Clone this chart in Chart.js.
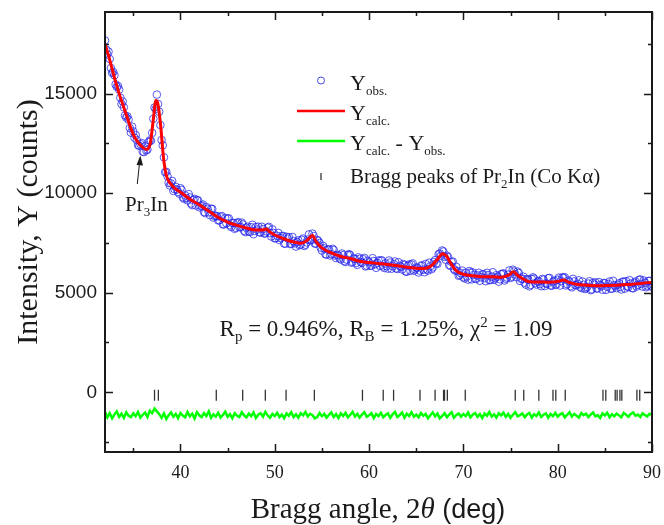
<!DOCTYPE html>
<html>
<head>
<meta charset="utf-8">
<script src="https://cdn.jsdelivr.net/npm/chart.js@4.4.1/dist/chart.umd.min.js"></script>
<style>
  html, body { margin: 0; padding: 0; background: #fff; }
  #wrap { width: 664px; height: 525px; position: relative; }
</style>
</head>
<body>
<div id="wrap"><canvas id="xrd" width="664" height="525"></canvas></div>
<script>
// ---------- data ----------
// observed scan: 2theta from 32 to 90 deg, 0.125 deg step (one row = one degree)
const obsStart = 32, obsStep = 0.125;
const yObs = [
  17670, 17210, 16970, 17110, 16740, 16285, 16040, 16085,
  15920, 15460, 15340, 15380, 15200, 14795, 14480, 14605,
  14310, 13905, 13800, 13855, 13690, 13275, 13040, 13340,
  13100, 12790, 12920, 12670, 12420, 12375, 12460, 12520,
  12090, 12065, 12350, 12150, 12190, 12560, 12650, 12635,
  13030, 13735, 14300, 14235, 14950, 14480, 14090, 13420,
  12670, 12405, 11800, 11055, 11070, 10855, 10520, 10390,
  10490, 10615, 10110, 10200, 10320, 10180, 10060, 9975,
  10250, 10165, 9790, 9720, 9890, 9745, 9640, 9955,
  9790, 9475, 9400, 9655, 9710, 9385, 9660, 9635,
  9290, 9350, 9380, 9430, 9050, 9000, 9300, 9220,
  9040, 8900, 9220, 9210, 8770, 8840, 8870, 8840,
  8630, 8640, 8810, 8850, 8430, 8430, 8750, 8485,
  8720, 8740, 8380, 8300, 8510, 8505, 8210, 8260,
  8500, 8545, 8290, 8305, 8520, 8430, 8110, 8045,
  8260, 8315, 8070, 8050, 8290, 8415, 7940, 8100,
  8300, 8170, 8320, 8040, 8020, 8315, 8200, 7975,
  7980, 8080, 8270, 8310, 7990, 7825, 8180, 8000,
  7730, 7735, 7860, 8005, 7650, 7745, 7840, 7855,
  7470, 7460, 7810, 7720, 7790, 7445, 7460, 7800,
  7590, 7480, 7320, 7540, 7630, 7385, 7420, 7660,
  7720, 7350, 7410, 7530, 7670, 7930, 7630, 7640,
  7970, 7850, 7470, 7460, 7650, 7595, 7500, 7260,
  7120, 7350, 7230, 6935, 6910, 7170, 7180, 6870,
  6940, 7205, 7150, 6870, 6740, 6905, 6870, 6730,
  6670, 6970, 6890, 6585, 6540, 6665, 6890, 6940,
  6890, 6510, 6550, 6725, 6690, 6490, 6400, 6775,
  6700, 6540, 6500, 6685, 6750, 6320, 6360, 6605,
  6530, 6355, 6360, 6735, 6590, 6430, 6250, 6495,
  6620, 6355, 6630, 6615, 6320, 6240, 6470, 6335,
  6210, 6620, 6520, 6205, 6330, 6440, 6570, 6225,
  6190, 6530, 6350, 6300, 6170, 6440, 6390, 6070,
  6050, 6355, 6420, 6100, 6420, 6475, 6110, 6175,
  6270, 6248, 6015, 6112, 6340, 6380, 6160, 6030,
  6440, 6170, 6110, 6510, 6330, 6180, 6270, 6545,
  6640, 6475, 6450, 6930, 6970, 6855, 7120, 7070,
  6800, 6655, 6860, 6790, 6390, 6350, 6540, 6565,
  6190, 6115, 6300, 6080, 5850, 5885, 5980, 6110,
  5780, 5720, 6000, 5810, 5660, 6090, 6020, 5670,
  6020, 5905, 5710, 5695, 5870, 6000, 5600, 5775,
  5920, 5930, 5740, 5580, 6000, 5880, 5630, 5638,
  5810, 6028, 5645, 5733, 5880, 5808, 5555, 5673,
  5930, 5950, 5970, 5615, 5700, 5760, 5910, 6120,
  5740, 5805, 6160, 6070, 5920, 5780, 6060, 5990,
  5590, 5700, 5710, 5805, 5500, 5405, 5690, 5655,
  5320, 5388, 5695, 5773, 5710, 5480, 5410, 5560,
  5580, 5428, 5325, 5695, 5655, 5333, 5470, 5440,
  5730, 5743, 5365, 5350, 5555, 5608, 5400, 5415,
  5650, 5755, 5360, 5580, 5780, 5750, 5780, 5365,
  5430, 5615, 5550, 5335, 5270, 5695, 5570, 5380,
  5370, 5445, 5620, 5303, 5235, 5558, 5400, 5185,
  5230, 5285, 5460, 5575, 5130, 5168, 5505, 5413,
  5520, 5210, 5220, 5533, 5395, 5327, 5148, 5489,
  5480, 5141, 5302, 5444, 5565, 5207, 5198, 5599,
  5380, 5314, 5228, 5402, 5475, 5279, 5162, 5556,
  5550, 5204, 5578, 5322, 5285, 5629, 5462, 5236,
  5220, 5496, 5562, 5309, 5395, 5642, 5668, 5444,
  5310, 5615, 5500, 5275, 5350, 5585, 5600, 5355,
  5290
];
// difference curve (shifted below zero), 0.25 deg step
const diffStart = 32, diffStep = 0.25;
const yDiff = [
  -980, -1260, -1050, -1310, -1120, -960, -1230, -1080, -1290, -1010, -1180, -1250,
  -1060, -1200, -990, -1270, -1130, -1020, -1240, -930, -1050, -820, -960, -1100,
  -1280, -1060, -1340, -1150, -1010, -1230, -1090, -1300, -1040, -1170, -1260, -990,
  -1210, -1080, -1320, -1000, -1160, -1250, -1050, -1190, -960, -1280, -1110, -1220,
  -1030, -1270, -1140, -980, -1230, -1100, -1310, -1050, -1180, -1240, -1000, -1160,
  -1260, -1070, -1200, -1010, -1290, -1130, -1050, -1230, -980, -1170, -1280, -1090,
  -1190, -1030, -1250, -1120, -1300, -1060, -1180, -1000, -1240, -1110, -1270, -1050,
  -1160, -990, -1220, -1080, -1150, -1310, -1250, -1040, -1200, -1090, -1270, -1130,
  -1010, -1240, -1100, -1290, -1060, -1190, -1030, -1260, -1140, -980, -1220, -1080,
  -1270, -1120, -1000, -1230, -1160, -1050, -1300, -1090, -1200, -1030, -1250, -1140,
  -1060, -1280, -1110, -990, -1240, -1150, -1020, -1270, -1080, -1190, -1000, -1230,
  -1120, -1260, -1040, -1180, -1090, -1300, -1150, -1010, -1210, -1070, -1310, -1190,
  -1050, -1250, -1120, -1000, -1280, -1140, -1060, -1230, -1090, -1200, -1020, -1260,
  -1130, -1040, -1240, -1100, -1290, -1070, -1180, -990, -1220, -1110, -1270, -1050,
  -1160, -1020, -1230, -1090, -1280, -1130, -1000, -1210, -1150, -1060, -1250, -1120,
  -1040, -1270, -1100, -1190, -1010, -1240, -1130, -1060, -1280, -1090, -1200, -1030,
  -1230, -1110, -1050, -1260, -1140, -1000, -1220, -1090, -1180, -1270, -1040, -1150,
  -1080, -1240, -1120, -1010, -1210, -1150, -1290, -1060, -1170, -1030, -1250, -1100,
  -1200, -1070, -1160, -1260, -1040, -1130, -1230, -1090, -1010, -1180, -1120, -1240,
  -1060, -1150, -1210, -1080, -1130
];
// calculated profile
const calcAngle = [32, 32.5, 33, 33.5, 34, 34.5, 35, 35.5, 36, 36.4, 36.8, 37.1, 37.4, 37.6, 37.9,
  38.2, 38.5, 39, 39.5, 40, 41, 42, 43, 44, 45, 46, 47, 48, 48.7, 49.1, 49.5, 50, 51, 52, 52.8,
  53.4, 54, 54.4, 55, 56, 57, 58, 59, 60, 61, 62, 63, 64, 65, 65.8, 66.5, 67.2, 67.8, 68.2, 68.7,
  69.3, 70, 71, 72, 73, 74, 74.8, 75.3, 75.8, 76.5, 77, 78, 79, 80, 80.6, 81.2, 82, 83, 84, 85,
  86, 87, 88, 89, 90];
const yCalc = [17500, 16700, 15800, 15000, 14300, 13600, 12950, 12550, 12300, 12200, 12500, 13600,
  14650, 14500, 13400, 11800, 10900, 10450, 10200, 10050, 9700, 9420, 9100, 8780, 8550, 8380, 8250,
  8150, 8150, 8200, 8050, 7900, 7700, 7550, 7480, 7620, 7880, 7550, 7250, 7000, 6820, 6720, 6580,
  6520, 6470, 6420, 6360, 6280, 6230, 6220, 6320, 6650, 6960, 6850, 6450, 6080, 5930, 5850, 5800,
  5800, 5780, 5880, 6050, 5850, 5650, 5550, 5540, 5530, 5560, 5640, 5520, 5430, 5380, 5350, 5360,
  5370, 5400, 5430, 5480, 5520];
// Bragg reflections of Pr2In
const braggAngle = [37.25, 37.66, 43.8, 46.6, 49.0, 51.2, 54.2, 59.3, 61.5, 62.6, 65.4, 67.0,
  67.9, 68.0, 68.3, 70.2, 75.5, 76.4, 78.0, 79.5, 79.8, 80.8, 84.8, 85.1, 86.1, 86.3, 86.6, 86.8,
  88.4, 88.7];
const braggLevel = -150;

const xTicks = [40, 50, 60, 70, 80, 90];
const xMinor = [35, 45, 55, 65, 75, 85];
const yTicks = [0, 5000, 10000, 15000];
const yMinor = [-2500, 2500, 7500, 12500, 17500];

const obsPts = yObs.map((v, i) => ({ x: obsStart + i * obsStep, y: v }));
const diffPts = yDiff.map((v, i) => ({ x: diffStart + i * diffStep, y: v }));
const calcPts = calcAngle.map((a, i) => ({ x: a, y: yCalc[i] }));
const braggPts = braggAngle.map(a => ({ x: a, y: braggLevel }));

const SERIF = '"Liberation Serif", "Times New Roman", serif';
const SANS = '"Liberation Sans", Arial, sans-serif';
const INK = "#1a1a1a";

// draw a run of text pieces, each {t, size, dy, font, style}
function richText(ctx, parts, x, y, align) {
  let w = 0;
  parts.forEach(p => { ctx.font = (p.style || "") + " " + p.size + "px " + (p.font || SERIF); p.w = ctx.measureText(p.t).width; w += p.w; });
  let cx = align === "center" ? x - w / 2 : x;
  ctx.textAlign = "left"; ctx.textBaseline = "alphabetic";
  parts.forEach(p => {
    ctx.font = (p.style || "") + " " + p.size + "px " + (p.font || SERIF);
    ctx.fillText(p.t, cx, y + (p.dy || 0));
    cx += p.w;
  });
}

const decor = {
  id: "decor",
  afterDraw(chart) {
    const { ctx, chartArea: a, scales: { x, y } } = chart;
    ctx.save();
    ctx.strokeStyle = INK; ctx.fillStyle = INK;

    // frame
    ctx.lineWidth = 2;
    ctx.strokeRect(a.left, a.top, a.right - a.left, a.bottom - a.top);

    // inward ticks on all four sides
    ctx.lineWidth = 1.5;
    const tick = (vals, len, horiz) => vals.forEach(v => {
      ctx.beginPath();
      if (horiz) {
        const px = Math.round(x.getPixelForValue(v)) + 0.5;
        ctx.moveTo(px, a.bottom); ctx.lineTo(px, a.bottom - len);
        ctx.moveTo(px, a.top); ctx.lineTo(px, a.top + len);
      } else {
        const py = Math.round(y.getPixelForValue(v)) + 0.5;
        ctx.moveTo(a.left, py); ctx.lineTo(a.left + len, py);
        ctx.moveTo(a.right, py); ctx.lineTo(a.right - len, py);
      }
      ctx.stroke();
    });
    tick(xTicks, 8, true); tick(xMinor, 4, true);
    tick(yTicks, 8, false); tick(yMinor, 4, false);

    // axis titles
    ctx.save();
    ctx.translate(29, 222);
    ctx.rotate(-Math.PI / 2);
    ctx.font = "30px " + SERIF;
    ctx.textAlign = "center"; ctx.textBaseline = "middle";
    ctx.fillText("Intensity, Y (counts)", 0, 0);
    ctx.restore();
    richText(ctx, [
      { t: "Bragg angle, 2", size: 29 },
      { t: "\u03B8", size: 29, style: "italic" },
      { t: " (deg)", size: 27, font: SANS }
    ], 378, 518, "center");

    // legend
    const lx = 321;
    ctx.strokeStyle = "rgba(40,40,230,0.85)"; ctx.lineWidth = 1;
    ctx.beginPath(); ctx.arc(lx, 80.5, 3.5, 0, Math.PI * 2); ctx.stroke();
    ctx.lineWidth = 2.5;
    ctx.strokeStyle = "#ff0000";
    ctx.beginPath(); ctx.moveTo(297, 111); ctx.lineTo(345, 111); ctx.stroke();
    ctx.strokeStyle = "#00ff00";
    ctx.beginPath(); ctx.moveTo(297, 141); ctx.lineTo(345, 141); ctx.stroke();
    ctx.strokeStyle = "#333"; ctx.lineWidth = 1.3;
    ctx.beginPath(); ctx.moveTo(lx, 173); ctx.lineTo(lx, 180); ctx.stroke();
    ctx.fillStyle = INK;
    richText(ctx, [{ t: "Y", size: 22 }, { t: "obs.", size: 13, dy: 5 }], 350, 90);
    richText(ctx, [{ t: "Y", size: 22 }, { t: "calc.", size: 13, dy: 5 }], 350, 120);
    richText(ctx, [{ t: "Y", size: 22 }, { t: "calc.", size: 13, dy: 5 }, { t: " - Y", size: 22 },
      { t: "obs.", size: 13, dy: 5 }], 350, 150);
    richText(ctx, [{ t: "Bragg peaks of Pr", size: 21 }, { t: "2", size: 13, dy: 5 },
      { t: "In (Co K\u03B1)", size: 21 }], 350, 183);

    // refinement figures
    richText(ctx, [
      { t: "R", size: 23 }, { t: "p", size: 15, dy: 5 }, { t: " = 0.946%, R", size: 23 },
      { t: "B", size: 15, dy: 5 }, { t: " = 1.25%, \u03C7", size: 23 }, { t: "2", size: 15, dy: -9 },
      { t: " = 1.09", size: 23 }
    ], 386, 336, "center");

    // impurity marker
    richText(ctx, [{ t: "Pr", size: 21 }, { t: "3", size: 13, dy: 5 }, { t: "In", size: 21 }], 125, 211);
    ctx.strokeStyle = INK; ctx.lineWidth = 1;
    ctx.beginPath(); ctx.moveTo(137.3, 184); ctx.lineTo(139.6, 162); ctx.stroke();
    ctx.beginPath(); ctx.moveTo(140.3, 155.5); ctx.lineTo(136.5, 165); ctx.lineTo(143, 165.6); ctx.closePath(); ctx.fill();

    ctx.restore();
  }
};

new Chart(document.getElementById("xrd"), {
  data: {
    datasets: [
      { type: "scatter", data: obsPts, pointStyle: "circle", pointRadius: 3.8, borderWidth: 1,
        borderColor: "rgba(35,35,235,0.75)", backgroundColor: "rgba(0,0,0,0)", order: 4 },
      { type: "line", data: calcPts, borderColor: "#ff0000", borderWidth: 3, pointRadius: 0,
        cubicInterpolationMode: "monotone", order: 3 },
      { type: "line", data: diffPts, borderColor: "#00ff00", borderWidth: 2.5, pointRadius: 0, order: 2 },
      { type: "scatter", data: braggPts, pointStyle: "line", rotation: 90, pointRadius: 5.5,
        borderWidth: 1.3, borderColor: "#333", order: 1 }
    ]
  },
  options: {
    responsive: false,
    animation: false,
    events: [],
    layout: { padding: 0 },
    plugins: { legend: { display: false }, tooltip: { enabled: false } },
    scales: {
      x: {
        type: "linear", min: 32, max: 90,
        afterBuildTicks: s => { s.ticks = xTicks.map(v => ({ value: v })); },
        afterFit: s => { s.height = 73; s.paddingLeft = 0; s.paddingRight = 12; },
        grid: { display: false, drawTicks: false }, border: { display: false },
        ticks: { padding: 10, color: INK, font: { family: SERIF, size: 18 }, callback: v => String(v) }
      },
      y: {
        type: "linear", min: -3000, max: 19100,
        afterBuildTicks: s => { s.ticks = yTicks.map(v => ({ value: v })); },
        afterFit: s => { s.width = 105; s.paddingTop = 12; s.paddingBottom = 0; },
        grid: { display: false, drawTicks: false }, border: { display: false },
        ticks: { padding: 8, color: INK, font: { family: SANS, size: 19 }, callback: v => String(v) }
      }
    }
  },
  plugins: [decor]
});
</script>
</body>
</html>
